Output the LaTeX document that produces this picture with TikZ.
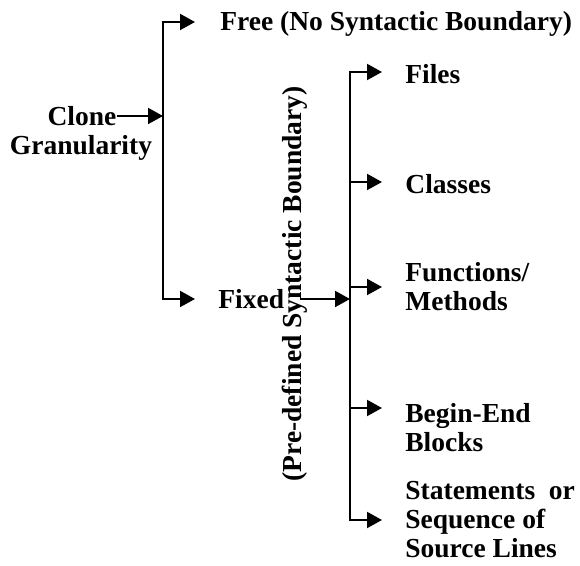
\documentclass[tikz,border=0pt]{standalone}
\usepackage{fontspec}
\setmainfont{Liberation Serif}
\usepackage{tikz}
\usetikzlibrary{arrows.meta}

\begin{document}
\begin{tikzpicture}[x=0.5pt, y=-0.5pt,
		lbl/.style={font=\fontsize{13.75}{14.5}\selectfont\bfseries, inner sep=0pt, anchor=west, align=left},
		branch/.style={line width=1pt, -{Triangle[length=7.5pt, width=8pt]}},
		leaf/.style={branch, shorten >=11.5pt}]
			\useasboundingbox (0,0) rectangle (580,566);
			% root label
			\node[lbl, anchor=center] (clone) at (82,116) {Clone};
			\node[lbl, anchor=center] (granularity) at (81,148) {Granularity};
			% first level
			\node[lbl] (free) at (220,24) {Free (No Syntactic Boundary)};
			\node[lbl] (fixed) at (218,299) {Fixed};
			\node[lbl, anchor=center, rotate=90] (predef) at (295,284) {(Pre-defined Syntactic Boundary)};
			% second level
			\node[lbl] (files) at (405,74) {Files};
			\node[lbl] (classes) at (405,184) {Classes};
			\node[lbl] (functions) at (405,287) {Functions/\\Methods};
			\node[lbl] (beginend) at (405,428) {Begin-End\\Blocks};
			\node[lbl] (statements) at (405,520) {Statements~~or\\Sequence of\\Source Lines};
			\coordinate (j1) at (163,116);
			\coordinate (j2) at (350,299);
			\draw[branch] (clone.east) -- (j1);
			\draw[leaf, shorten >=12.5pt] (j1) |- ([yshift=1pt]free.west);
			\draw[leaf] (j1) |- (fixed.west);
			\draw[branch, shorten <=8pt] (fixed.east) -- (j2);
			\draw[leaf] (j2) |- ([yshift=1pt]files.west);
			\draw[leaf] (j2) |- ([yshift=1pt]classes.west);
			\draw[leaf] (j2) |- (functions.west);
			\draw[leaf] (j2) |- ([yshift=10pt]beginend.west);
			\draw[leaf] (j2) |- (statements.west);
		\end{tikzpicture}
\end{document}
